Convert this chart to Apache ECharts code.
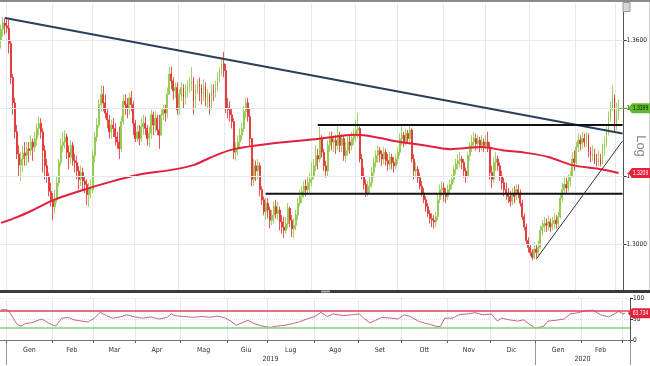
<!DOCTYPE html>
<html><head><meta charset="utf-8">
<script src="https://cdn.jsdelivr.net/npm/echarts@6/dist/echarts.min.js"></script>
<style>html,body{margin:0;padding:0;background:#fff}#c{width:650px;height:366px}</style>
</head><body><div id="c"></div>
<script>
// ---- axis / category definitions ----
const startDate = '2018-12-27';
const endDate = '2020-03-05';
const monthNames = ['Gen','Feb','Mar','Apr','Mag','Giu','Lug','Ago','Set','Ott','Nov','Dic'];
const priceTicks = [1.30, 1.32, 1.34, 1.36];
const rsiBands = [70, 30];

// ---- daily bars (USD/CAD); open = previous close ----
const firstOpen = 1.3600;
const closes = [
 1.3632,1.3650,1.3642,
 1.3635,1.3590,1.3490,1.3415,1.3330,1.3265,1.3232,1.3250,1.3268,1.3260,1.3280,1.3275,1.3300,1.3285,1.3310,1.3340,1.3355,1.3330,1.3275,1.3230,1.3200,1.3155,1.3130,
 1.3110,1.3130,1.3180,1.3240,1.3290,1.3300,1.3315,1.3270,1.3255,1.3290,1.3245,1.3240,1.3215,1.3190,1.3210,1.3185,1.3175,1.3145,1.3160,1.3160,
 1.3260,1.3315,1.3350,1.3410,1.3440,1.3415,1.3385,1.3365,1.3330,1.3350,1.3340,1.3315,1.3300,1.3280,1.3360,1.3420,1.3410,1.3400,1.3430,1.3410,1.3355,
 1.3310,1.3330,1.3310,1.3345,1.3355,1.3340,1.3310,1.3325,1.3380,1.3350,1.3370,1.3335,1.3320,1.3380,1.3395,1.3385,1.3440,1.3500,1.3480,1.3450,1.3460,1.3395,
 1.3440,1.3460,1.3430,1.3450,1.3465,1.3470,1.3480,1.3420,1.3455,1.3470,1.3460,1.3440,1.3465,1.3430,1.3435,1.3410,1.3450,1.3445,1.3460,1.3490,1.3510,1.3530,1.3510,
 1.3400,1.3395,1.3380,1.3360,1.3270,1.3280,1.3300,1.3320,1.3340,1.3390,1.3415,1.3375,1.3310,1.3190,1.3230,1.3215,1.3230,1.3160,1.3130,1.3095,
 1.3120,1.3100,1.3070,1.3085,1.3110,1.3090,1.3100,1.3065,1.3050,1.3040,1.3060,1.3105,1.3070,1.3045,1.3055,1.3085,1.3120,1.3140,1.3155,1.3170,1.3160,1.3180,1.3190,
 1.3200,1.3230,1.3260,1.3250,1.3310,1.3270,1.3230,1.3215,1.3290,1.3310,1.3300,1.3305,1.3290,1.3320,1.3290,1.3310,1.3260,1.3275,1.3300,1.3290,1.3310,1.3320,
 1.3335,1.3340,1.3250,1.3200,1.3175,1.3150,1.3170,1.3180,1.3210,1.3240,1.3260,1.3275,1.3265,1.3250,1.3270,1.3245,1.3235,1.3255,1.3240,1.3230,1.3250,
 1.3270,1.3310,1.3320,1.3300,1.3325,1.3310,1.3335,1.3250,1.3215,1.3220,1.3195,1.3170,1.3150,1.3130,1.3110,1.3090,1.3075,1.3070,1.3065,1.3080,1.3130,1.3160,1.3165,
 1.3150,1.3140,1.3160,1.3175,1.3190,1.3220,1.3235,1.3245,1.3250,1.3240,1.3215,1.3200,1.3260,1.3290,1.3300,1.3310,1.3295,1.3305,1.3290,1.3300,1.3290,
 1.3300,1.3285,1.3210,1.3190,1.3240,1.3250,1.3230,1.3200,1.3180,1.3160,1.3150,1.3140,1.3125,1.3150,1.3140,1.3160,1.3150,1.3120,1.3080,1.3050,1.3010,1.2990,
 1.2975,1.2960,1.2985,1.2975,1.2990,1.3040,1.3050,1.3060,1.3055,1.3065,1.3050,1.3060,1.3070,1.3060,1.3080,1.3135,1.3160,1.3175,1.3165,1.3185,1.3200,1.3250,1.3240,
 1.3285,1.3305,1.3295,1.3310,1.3300,1.3320,1.3270,1.3255,1.3265,1.3245,1.3240,1.3250,1.3235,1.3280,1.3295,1.3330,1.3370,1.3400,1.3430,1.3350,
 1.3385,1.3399
];
const highs = [
 1.3645,1.3668,1.3665,
 1.3660,1.3660,1.3600,1.3500,1.3430,1.3350,1.3290,1.3270,1.3290,1.3300,1.3300,1.3300,1.3320,1.3310,1.3330,1.3355,1.3375,1.3370,1.3340,1.3290,1.3250,1.3210,1.3180,
 1.3150,1.3160,1.3200,1.3250,1.3310,1.3330,1.3335,1.3325,1.3290,1.3305,1.3300,1.3265,1.3260,1.3230,1.3230,1.3225,1.3200,1.3190,1.3180,1.3190,
 1.3275,1.3330,1.3370,1.3425,1.3468,1.3465,1.3440,1.3400,1.3380,1.3365,1.3370,1.3355,1.3330,1.3345,1.3375,1.3440,1.3440,1.3430,1.3445,1.3450,1.3420,
 1.3365,1.3350,1.3350,1.3370,1.3380,1.3375,1.3350,1.3345,1.3395,1.3390,1.3390,1.3380,1.3380,1.3400,1.3410,1.3410,1.3460,1.3520,1.3522,1.3490,1.3475,1.3475,
 1.3455,1.3475,1.3470,1.3470,1.3480,1.3490,1.3520,1.3490,1.3470,1.3485,1.3490,1.3470,1.3485,1.3475,1.3455,1.3445,1.3470,1.3470,1.3480,1.3505,1.3520,1.3550,1.3565,
 1.3530,1.3430,1.3420,1.3400,1.3370,1.3300,1.3320,1.3340,1.3355,1.3405,1.3430,1.3430,1.3400,1.3300,1.3250,1.3245,1.3250,1.3240,1.3170,1.3140,
 1.3135,1.3135,1.3110,1.3100,1.3125,1.3130,1.3125,1.3110,1.3085,1.3080,1.3080,1.3120,1.3110,1.3085,1.3075,1.3100,1.3135,1.3160,1.3170,1.3185,1.3190,1.3200,1.3210,
 1.3240,1.3250,1.3290,1.3280,1.3345,1.3320,1.3280,1.3245,1.3305,1.3330,1.3330,1.3320,1.3320,1.3345,1.3330,1.3325,1.3320,1.3300,1.3320,1.3320,1.3330,1.3340,
 1.3365,1.3385,1.3345,1.3265,1.3225,1.3190,1.3185,1.3200,1.3225,1.3255,1.3275,1.3290,1.3285,1.3275,1.3285,1.3280,1.3265,1.3270,1.3265,1.3255,1.3265,
 1.3285,1.3325,1.3345,1.3330,1.3340,1.3335,1.3350,1.3340,1.3265,1.3240,1.3230,1.3210,1.3185,1.3165,1.3140,1.3120,1.3100,1.3090,1.3085,1.3095,1.3145,1.3175,1.3185,
 1.3180,1.3165,1.3175,1.3190,1.3205,1.3230,1.3250,1.3265,1.3270,1.3260,1.3250,1.3225,1.3270,1.3300,1.3320,1.3330,1.3325,1.3320,1.3315,1.3320,1.3310,
 1.3320,1.3330,1.3300,1.3230,1.3255,1.3270,1.3260,1.3240,1.3215,1.3195,1.3180,1.3165,1.3155,1.3165,1.3170,1.3175,1.3175,1.3160,1.3130,1.3090,1.3060,1.3020,
 1.3000,1.2985,1.3005,1.3000,1.3010,1.3055,1.3070,1.3080,1.3075,1.3085,1.3075,1.3080,1.3090,1.3085,1.3095,1.3150,1.3180,1.3200,1.3195,1.3205,1.3215,1.3270,1.3275,
 1.3300,1.3325,1.3320,1.3330,1.3325,1.3330,1.3325,1.3285,1.3290,1.3280,1.3265,1.3275,1.3265,1.3295,1.3315,1.3345,1.3390,1.3420,1.3468,1.3440,
 1.3415,1.3425
];
const lows = [
 1.3575,1.3610,1.3615,
 1.3620,1.3560,1.3470,1.3380,1.3310,1.3250,1.3200,1.3185,1.3210,1.3230,1.3230,1.3240,1.3260,1.3245,1.3270,1.3290,1.3320,1.3310,1.3210,1.3190,1.3180,1.3140,1.3110,
 1.3070,1.3090,1.3120,1.3170,1.3230,1.3270,1.3280,1.3250,1.3220,1.3235,1.3230,1.3210,1.3190,1.3160,1.3170,1.3160,1.3150,1.3115,1.3110,1.3135,
 1.3150,1.3240,1.3300,1.3340,1.3390,1.3390,1.3370,1.3340,1.3310,1.3310,1.3315,1.3290,1.3280,1.3250,1.3270,1.3350,1.3380,1.3370,1.3380,1.3390,1.3320,
 1.3300,1.3300,1.3290,1.3300,1.3320,1.3320,1.3290,1.3285,1.3310,1.3320,1.3330,1.3320,1.3280,1.3320,1.3365,1.3360,1.3370,1.3440,1.3455,1.3425,1.3430,1.3380,
 1.3380,1.3420,1.3400,1.3410,1.3430,1.3445,1.3450,1.3380,1.3400,1.3440,1.3420,1.3410,1.3420,1.3405,1.3400,1.3380,1.3395,1.3420,1.3430,1.3450,1.3475,1.3495,1.3490,
 1.3385,1.3370,1.3360,1.3340,1.3250,1.3245,1.3260,1.3280,1.3305,1.3330,1.3370,1.3360,1.3290,1.3170,1.3170,1.3185,1.3190,1.3140,1.3115,1.3085,
 1.3070,1.3075,1.3047,1.3055,1.3060,1.3075,1.3070,1.3040,1.3030,1.3018,1.3030,1.3045,1.3050,1.3020,1.3018,1.3040,1.3070,1.3110,1.3120,1.3135,1.3140,1.3150,1.3150,
 1.3170,1.3190,1.3215,1.3220,1.3240,1.3255,1.3215,1.3195,1.3200,1.3270,1.3275,1.3270,1.3265,1.3275,1.3270,1.3270,1.3245,1.3240,1.3260,1.3265,1.3275,1.3290,
 1.3300,1.3310,1.3240,1.3190,1.3160,1.3138,1.3140,1.3150,1.3165,1.3195,1.3225,1.3240,1.3240,1.3230,1.3235,1.3230,1.3215,1.3220,1.3220,1.3210,1.3220,
 1.3235,1.3260,1.3290,1.3285,1.3290,1.3295,1.3300,1.3240,1.3190,1.3195,1.3180,1.3160,1.3140,1.3120,1.3095,1.3080,1.3060,1.3050,1.3045,1.3050,1.3070,1.3120,1.3140,
 1.3125,1.3120,1.3130,1.3145,1.3160,1.3180,1.3205,1.3220,1.3225,1.3220,1.3195,1.3180,1.3195,1.3245,1.3270,1.3280,1.3275,1.3280,1.3270,1.3275,1.3270,
 1.3280,1.3270,1.3190,1.3165,1.3180,1.3215,1.3215,1.3185,1.3160,1.3140,1.3130,1.3120,1.3110,1.3115,1.3120,1.3130,1.3135,1.3110,1.3070,1.3040,1.3000,1.2975,
 1.2965,1.2952,1.2955,1.2960,1.2965,1.2985,1.3025,1.3035,1.3035,1.3040,1.3035,1.3040,1.3045,1.3045,1.3050,1.3075,1.3125,1.3150,1.3145,1.3155,1.3170,1.3195,1.3215,
 1.3235,1.3270,1.3275,1.3280,1.3285,1.3285,1.3255,1.3240,1.3245,1.3235,1.3228,1.3230,1.3228,1.3235,1.3260,1.3285,1.3320,1.3360,1.3390,1.3330,
 1.3335,1.3365
];

// 200-day moving average: [bar index, value]
const ma200 = [[0,1.3062],[8,1.3079],[16,1.3100],[26,1.3129],[41,1.3159],[54,1.3182],[68,1.3203],[85,1.3218],[96,1.3232],[104,1.3253],[116,1.3279],[137,1.3297],[158,1.3309],[177,1.3321],[189,1.3312],[196,1.3303],[210,1.3291],[224,1.3279],[240,1.3285],[250,1.3276],[262,1.3268],[273,1.3256],[285,1.3232],[298,1.3221],[308,1.3209]];

// drawn trend lines: [bar index, value]
const trendDown = [[2,1.3665],[310,1.3325]];
const resistance = [[158,1.3350],[310,1.3350]];
const support = [[132,1.3148],[310,1.3148]];
const trendUp = [[267,1.2956],[310,1.3303]];

// RSI, points: [bar index, value]
const rsi = [[0,72],[3,72],[4,68],[6,52],[8,37],[10,33],[12,39],[15,41],[20,50],[22,45],[24,39],[27,33],[30,52],[33,54],[36,48],[40,45],[43,43],[46,52],[49,66],[52,58],[55,52],[59,55],[62,60],[66,55],[70,52],[74,55],[78,50],[82,54],[84,62],[86,58],[90,56],[95,54],[99,56],[103,54],[107,57],[111,52],[114,43],[116,35],[119,41],[122,47],[125,39],[129,33],[133,30],[136,33],[140,35],[144,39],[147,43],[151,50],[155,56],[158,66],[161,56],[164,62],[169,58],[173,60],[177,62],[179,52],[182,41],[185,47],[188,54],[193,52],[196,50],[199,60],[202,56],[206,45],[209,40],[212,37],[215,32],[217,32],[219,52],[223,52],[226,60],[230,62],[234,65],[238,60],[242,62],[245,45],[247,52],[251,48],[255,45],[258,48],[261,37],[264,28],[268,33],[270,45],[274,47],[278,50],[281,62],[285,65],[288,69],[292,71],[296,60],[300,55],[305,68],[307,62],[308,63.734]];

// ---- build categories (weekdays) ----
const cats = [];
{
  let d = new Date(startDate + 'T00:00:00Z');
  const e = new Date(endDate + 'T00:00:00Z');
  while (d <= e) {
    const wd = d.getUTCDay();
    if (wd !== 0 && wd !== 6) cats.push(d.toISOString().slice(0,10));
    d = new Date(d.getTime() + 86400000);
  }
}
const ym = s => s.slice(0,7);
const isMonthStart = i => i > 0 && ym(cats[i]) !== ym(cats[i-1]);
const midMonth = new Set();
const midYear = new Set();
const yearStart = new Set();
{
  const groups = {};
  const ygroups = {};
  cats.forEach((c,i) => {
    (groups[ym(c)] = groups[ym(c)] || []).push(i);
    const y = c.slice(0,4);
    if (c >= '2019-01-01') (ygroups[y] = ygroups[y] || []).push(i);
  });
  Object.values(groups).forEach(g => { if (g.length >= 10) midMonth.add(g[Math.floor((g.length-1)/2)]); });
  Object.values(ygroups).forEach(g => { midYear.add(g[Math.floor((g.length-1)/2)]); yearStart.add(g[0]); });
}

const candleData = closes.map((c,i) => [i === 0 ? firstOpen : closes[i-1], c, lows[i], highs[i]]);

const FONT = "'Liberation Sans Narrow','DejaVu Sans Condensed','Liberation Sans',sans-serif";
const gridColor = '#e4eaf1';

const chart = echarts.init(document.getElementById('c'), null, {renderer:'canvas'});
const mainMin = 1.30 - 46/3400, mainMax = 1.36 + 37/3400;

const baseX = {type:'category', data:cats, boundaryGap:true};
const option = {
  animation:false,
  backgroundColor:'#ffffff',
  grid:[
    {left:0, right:20, top:3, height:287},
    {left:0, right:20, top:298, height:42}
  ],
  xAxis:[
    Object.assign({}, baseX, {gridIndex:0, axisLine:{show:false}, axisTick:{show:false}, axisLabel:{show:false},
      splitLine:{show:true, interval:(i)=>isMonthStart(i), lineStyle:{color:gridColor, width:1}}}),
    Object.assign({}, baseX, {gridIndex:1, position:'bottom', offset:3,
      axisLine:{show:true, lineStyle:{color:'#777', width:1}},
      axisTick:{show:true, interval:(i)=>isMonthStart(i), length:3, lineStyle:{color:'#666'}},
      axisLabel:{show:true, interval:(i)=>midMonth.has(i), formatter:(v)=>monthNames[+v.slice(5,7)-1], fontSize:7, color:'#333', fontFamily:FONT, margin:4},
      splitLine:{show:true, interval:(i)=>isMonthStart(i), lineStyle:{color:gridColor, width:1}}}),
    Object.assign({}, baseX, {gridIndex:1, position:'bottom', offset:3,
      axisLine:{show:false}, axisTick:{show:false}, splitLine:{show:false},
      axisLabel:{show:true, interval:(i)=>midYear.has(i), formatter:(v)=>v.slice(0,4), fontSize:7, color:'#333', fontFamily:FONT, margin:13}}),
    Object.assign({}, baseX, {gridIndex:1, position:'bottom', offset:3,
      axisLine:{show:false}, axisLabel:{show:false}, splitLine:{show:false},
      axisTick:{show:true, interval:(i)=>yearStart.has(i), length:22, lineStyle:{color:'#999'}}})
  ],
  yAxis:[
    {type:'value', gridIndex:0, position:'right', min:mainMin, max:mainMax, scale:true,
      axisLine:{show:true, lineStyle:{color:'#555'}},
      axisTick:{show:true, length:3, customValues:priceTicks, lineStyle:{color:'#333'}},
      axisLabel:{show:true, customValues:priceTicks, formatter:(v)=>v.toFixed(4), fontSize:6.5, color:'#222', fontFamily:FONT, margin:3},
      splitLine:{show:false}},
    {type:'value', gridIndex:1, position:'right', min:0, max:100, interval:50,
      axisLine:{show:true, lineStyle:{color:'#555'}},
      axisTick:{show:true, length:3, lineStyle:{color:'#333'}},
      axisLabel:{show:true, fontSize:6.5, color:'#222', fontFamily:FONT, margin:3},
      splitLine:{show:true, lineStyle:{color:'#d5e2ee', type:'dotted'}}}
  ],
  series:[
    {type:'line', xAxisIndex:0, yAxisIndex:0, data:[], z:1, silent:true,
      markLine:{silent:true, symbol:'none', label:{show:false}, animation:false,
        lineStyle:{color:gridColor, type:'solid', width:1},
        data: priceTicks.map(v=>({yAxis:v}))}},
    {type:'candlestick', xAxisIndex:0, yAxisIndex:0, data:candleData, barWidth:1.4, z:3,
      itemStyle:{color:'#8cc63f', color0:'#e02a2a', borderColor:'#8cc63f', borderColor0:'#e02a2a', borderWidth:0.8}},
    {type:'line', xAxisIndex:0, yAxisIndex:0, data:ma200, smooth:0.3, symbol:'none', z:4,
      lineStyle:{color:'#e21f3d', width:2}},
    {type:'line', xAxisIndex:0, yAxisIndex:0, data:trendDown, symbol:'none', z:5, lineStyle:{color:'#2b3f5c', width:2}},
    {type:'line', xAxisIndex:0, yAxisIndex:0, data:resistance, symbol:'none', z:5, lineStyle:{color:'#111', width:2}},
    {type:'line', xAxisIndex:0, yAxisIndex:0, data:support, symbol:'none', z:5, lineStyle:{color:'#111', width:2}},
    {type:'line', xAxisIndex:0, yAxisIndex:0, data:trendUp, symbol:'none', z:5, lineStyle:{color:'#333', width:1}},
    {type:'line', xAxisIndex:1, yAxisIndex:1, data:rsi, symbol:'none', z:4,
      lineStyle:{color:'#c8677e', width:1},
      markLine:{silent:true, symbol:'none', label:{show:false}, animation:false,
        data:[{yAxis:rsiBands[0], lineStyle:{color:'#e0405a', width:1.5, type:'solid'}},
              {yAxis:rsiBands[1], lineStyle:{color:'#86d07f', width:1.5, type:'solid'}}]}}
  ]
};
chart.setOption(option);

// ---- value tags on the right axis ----
function tag(yPix, text, bg, fg) {
  return {type:'group', z:100, children:[
    {type:'polygon', z:100, shape:{points:[[628,yPix],[632,yPix-5],[650,yPix-5],[650,yPix+5],[632,yPix+5]]}, style:{fill:bg}},
    {type:'text', z:101, x:640.5, y:yPix, scaleX:0.72, style:{text:text, fill:fg, font:"7px 'Liberation Sans',sans-serif", align:'center', verticalAlign:'middle'}}
  ]};
}
const lastIdx = closes.length - 1;
const lastClose = closes[lastIdx];
const lastMA = ma200[ma200.length-1][1];
const lastRSI = rsi[rsi.length-1][1];
const yClose = chart.convertToPixel({yAxisIndex:0}, lastClose);
const yMA = chart.convertToPixel({yAxisIndex:0}, lastMA);
const yRSI = chart.convertToPixel({yAxisIndex:1}, lastRSI);
const xLast = chart.convertToPixel({xAxisIndex:0}, lastIdx);

chart.setOption({graphic:[
  {type:'rect', z:50, shape:{x:0, y:0, width:650, height:2}, style:{fill:'#8a8a8a'}},
  {type:'rect', z:50, shape:{x:0, y:290, width:650, height:3}, style:{fill:'#3a3a3a'}},
  {type:'rect', z:51, shape:{x:321, y:290.5, width:9, height:2}, style:{fill:'#aaaaaa'}},
  {type:'rect', z:50, shape:{x:623, y:2.5, width:7, height:9}, style:{fill:'#d6d6d6', stroke:'#999', lineWidth:1}},
  {type:'line', z:50, shape:{x1:649.5, y1:2, x2:649.5, y2:290}, style:{stroke:'#d0d0d0', lineWidth:1}},
  {type:'text', z:50, x:641, y:146, rotation:-Math.PI/2, style:{text:'Log', fill:'#8a8a8a', font:"13px 'Liberation Sans',sans-serif", align:'center', verticalAlign:'middle'}},
  {type:'line', z:60, shape:{x1:xLast, y1:yClose, x2:630, y2:yClose}, style:{stroke:'#6ab530', lineWidth:1}},
  tag(yClose, lastClose.toFixed(4), '#62b82e', '#102000'),
  tag(yMA, lastMA.toFixed(4), '#e3223c', '#ffffff'),
  tag(yRSI, lastRSI.toFixed(3), '#e3223c', '#ffffff')
]});
</script>
</body></html>
